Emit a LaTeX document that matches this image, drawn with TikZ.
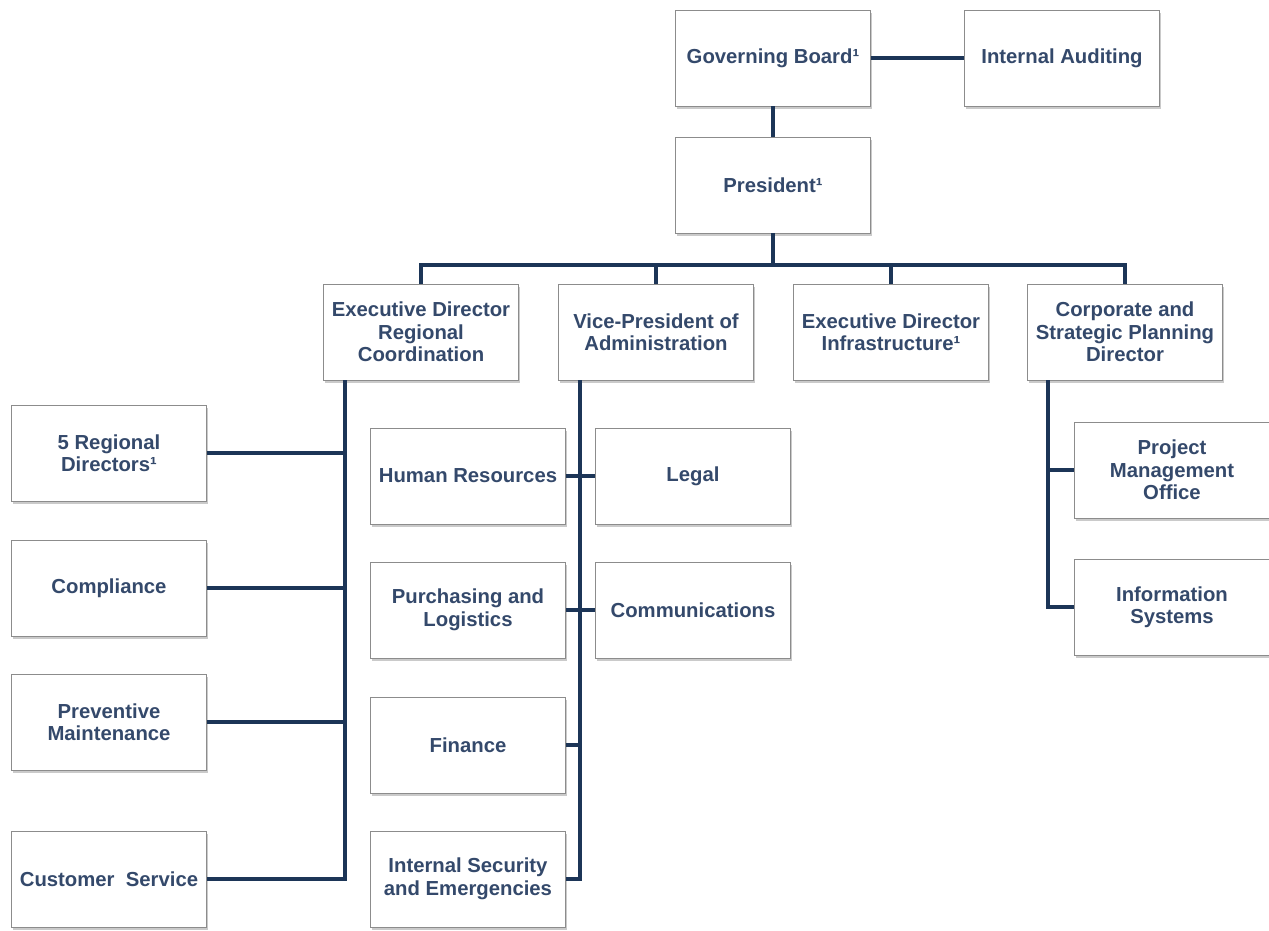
\documentclass[tikz,border=0pt]{standalone}
\usepackage{fontspec}
\setmainfont{Liberation Sans}
\usetikzlibrary{shadows}
\definecolor{boxtext}{HTML}{34496B}
\definecolor{linkcol}{HTML}{1C3557}
\definecolor{boxedge}{HTML}{8C8C8C}
\begin{document}
\begin{tikzpicture}[x=1pt,y=-1pt,
  unit/.style={draw=boxedge, line width=0.8pt, fill=white,
    minimum width=195pt, minimum height=96pt, inner sep=1pt,
    align=center, text=boxtext,
    font=\bfseries\fontsize{20.3}{22.5}\selectfont,
    drop shadow={shadow xshift=1.5pt, shadow yshift=-2.5pt, opacity=0.35, fill=black!60}},
  link/.style={draw=linkcol, line width=3.6pt}]
\useasboundingbox (0,0) rectangle (1269,930);

% top levels
\node[unit] (board) at (773,58) {Governing Board¹};
\node[unit] (audit) at (1062,58) {Internal Auditing};
\node[unit] (pres) at (773,185) {President¹};

% second level
\node[unit] (edrc) at (421,332) {Executive Director\\Regional\\Coordination};
\node[unit] (vpad) at (656,332) {Vice-President of\\Administration};
\node[unit] (edin) at (891,332) {Executive Director\\Infrastructure¹};
\node[unit] (cspd) at (1125,332) {Corporate and\\Strategic Planning\\Director};

% regional coordination branch
\node[unit] (regd) at (109,453) {5 Regional\\Directors¹};
\node[unit] (comp) at (109,588) {Compliance};
\node[unit] (prev) at (109,722) {Preventive\\Maintenance};
\node[unit] (cust) at (109,879) {Customer\ \ Service};

% administration branch
\node[unit] (hr)   at (468,476) {Human Resources};
\node[unit] (legal) at (693,476) {Legal};
\node[unit] (purch) at (468,610) {Purchasing and\\Logistics};
\node[unit] (comm) at (693,610) {Communications};
\node[unit] (fin)  at (468,745) {Finance};
\node[unit] (sec)  at (468,879) {Internal Security\\and Emergencies};

% planning branch
\node[unit] (pmo) at (1172,470) {Project\\Management\\Office};
\node[unit] (info) at (1172,607) {Information\\Systems};

% connectors
\coordinate (bus) at (773,265);
\draw[link] (board) -- (audit);
\draw[link] (board) -- (pres);
\draw[link] (pres.south) -- (bus);
\draw[link] (edrc.north) |- (bus) -| (cspd.north);
\draw[link] (vpad.north) -- (vpad.north |- bus);
\draw[link] (edin.north) -- (edin.north |- bus);

% regional coordination spine
\coordinate (rspine) at (345,380);
\draw[link] (rspine) |- (cust.east);
\draw[link] (regd.east) -- (regd.east -| rspine);
\draw[link] (comp.east) -- (comp.east -| rspine);
\draw[link] (prev.east) -- (prev.east -| rspine);

% administration spine
\coordinate (aspine) at (580,380);
\draw[link] (aspine) |- (sec.east);
\draw[link] (hr.east) -- (legal.west);
\draw[link] (purch.east) -- (comm.west);
\draw[link] (fin.east) -- (fin.east -| aspine);

% planning spine
\coordinate (pspine) at (1048,380);
\draw[link] (pspine) |- (info.west);
\draw[link] (pmo.west) -- (pmo.west -| pspine);
\end{tikzpicture}
\end{document}
